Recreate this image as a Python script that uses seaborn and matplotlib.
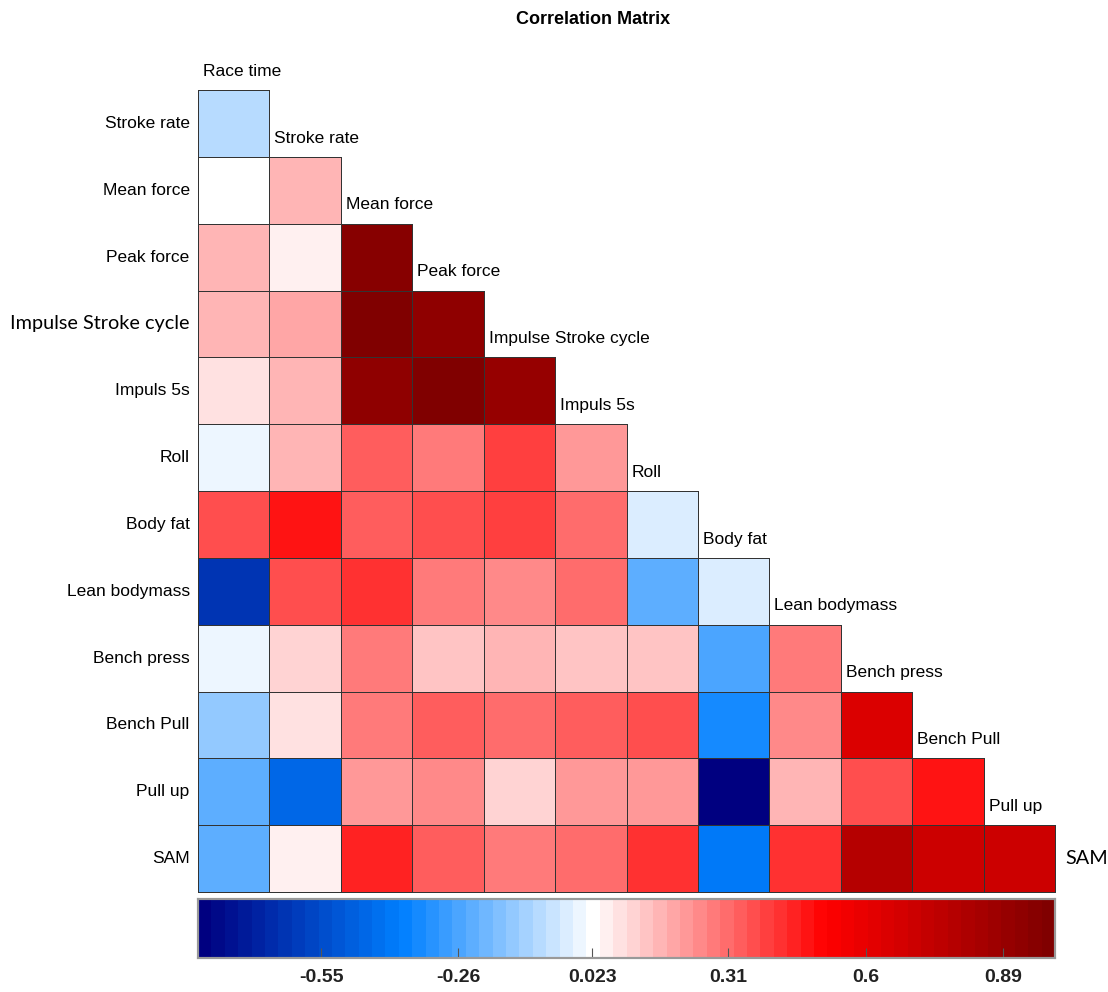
import numpy as np
import pandas as pd
import matplotlib
matplotlib.use("Agg")
import matplotlib.pyplot as plt
import seaborn as sns
from matplotlib.colors import LinearSegmentedColormap

row_labels = ["Stroke rate", "Mean force", "Peak force", "Impulse Stroke cycle", "Impuls 5s",
              "Roll", "Body fat", "Lean bodymass", "Bench press", "Bench Pull", "Pull up", "SAM"]
col_labels = ["Race time", "Stroke rate", "Mean force", "Peak force", "Impulse Stroke cycle",
              "Impuls 5s", "Roll", "Body fat", "Lean bodymass", "Bench press", "Bench Pull", "Pull up"]

# lower triangle, row by row
r_stroke_rate = [-0.09]
r_mean_force = [0.02, 0.175]
r_peak_force = [0.17, 0.05, 0.95]
r_impulse_cycle = [0.17, 0.20, 0.98, 0.92]
r_impuls_5s = [0.085, 0.175, 0.94, 0.98, 0.90]
r_roll = [-0.01, 0.175, 0.34, 0.29, 0.39, 0.21]
r_body_fat = [0.375, 0.48, 0.34, 0.35, 0.39, 0.32, -0.04]
r_lean_mass = [-0.63, 0.35, 0.41, 0.29, 0.26, 0.32, -0.23, -0.04]
r_bench_press = [-0.01, 0.12, 0.28, 0.145, 0.175, 0.145, 0.145, -0.25, 0.28]
r_bench_pull = [-0.15, 0.08, 0.28, 0.325, 0.32, 0.325, 0.375, -0.335, 0.26, 0.64]
r_pull_up = [-0.24, -0.45, 0.23, 0.245, 0.12, 0.235, 0.235, -0.81, 0.175, 0.375, 0.48]
r_sam = [-0.24, 0.05, 0.45, 0.34, 0.29, 0.32, 0.42, -0.39, 0.42, 0.80, 0.69, 0.69]

cbar_ticks = [-0.55, -0.26, 0.023, 0.31, 0.6, 0.89]
vmin, vmax = -0.81, 1.0

rows = [r_stroke_rate, r_mean_force, r_peak_force, r_impulse_cycle, r_impuls_5s, r_roll,
        r_body_fat, r_lean_mass, r_bench_press, r_bench_pull, r_pull_up, r_sam]
n = len(row_labels)
mat = np.full((n, n), np.nan)
for i, r in enumerate(rows):
    mat[i, :len(r)] = r
df = pd.DataFrame(mat, index=row_labels, columns=col_labels)
mask = np.triu(np.ones((n, n), dtype=bool), k=1)

cmap = LinearSegmentedColormap.from_list(
    "bwr_custom",
    [(0.0, (0, 0, 0.5)), (0.235, (0, 0.5, 1)), (0.46, (1, 1, 1)),
     (0.735, (1, 0, 0)), (1.0, (0.5, 0, 0))], N=64)

plt.rcParams['font.family'] = ['Liberation Sans', 'DejaVu Sans']

fig = plt.figure(figsize=(11.08, 9.92), dpi=100)
W, H = 1108, 992
ax = fig.add_axes([198 / W, 1 - 892 / H, 857 / W, 802 / H])
cax = fig.add_axes([198 / W, 1 - 958 / H, 857 / W, 59 / H])

sns.heatmap(df, mask=mask, cmap=cmap, vmin=vmin, vmax=vmax, ax=ax, cbar_ax=cax,
            cbar_kws={"orientation": "horizontal", "ticks": cbar_ticks},
            linewidths=0.7, linecolor="#333333", square=False)

# no cell borders on the masked (upper) part
mesh = ax.collections[0]
edge = np.tile(matplotlib.colors.to_rgba("#333333"), (n * n, 1))
edge[mask.ravel()] = (0, 0, 0, 0)
mesh.set_edgecolor(edge)
mesh.set_clip_on(False)

ax.set_xticks([])
ax.set_xlabel("")
ax.set_ylabel("")
ax.tick_params(axis="y", length=0, pad=6)
ax.set_yticklabels(row_labels, rotation=0, fontsize=12.5, ha="right")
for t in ax.get_yticklabels():
    if t.get_text() == "Impulse Stroke cycle":
        t.set_fontfamily(["Lato", "DejaVu Sans"])
        t.set_fontsize(14.3)

# column names along the diagonal
for j, name in enumerate(col_labels):
    ax.text(j + 0.07, j - 0.28, name, ha="left", va="center", fontsize=12.5, clip_on=False)
ax.text(n + 0.14, n - 0.5, "SAM", ha="left", va="center", fontsize=14.3,
        family=["Lato", "DejaVu Sans"], clip_on=False)

cax.tick_params(axis="x", direction="in", length=7, width=0.8, color="#555555",
                labelsize=14, pad=8)
cax.set_xticklabels(["-0.55", "-0.26", "0.023", "0.31", "0.6", "0.89"], fontweight="bold",
                    color="#222222")
for s in cax.spines.values():
    s.set_visible(True)
    s.set_edgecolor("#999999")
    s.set_linewidth(1.5)

fig.text(593 / W, 1 - 20 / H, "Correlation Matrix", ha="center", va="center",
         fontsize=13, fontweight="bold")

fig.savefig("out.png", dpi=100, facecolor="white")
